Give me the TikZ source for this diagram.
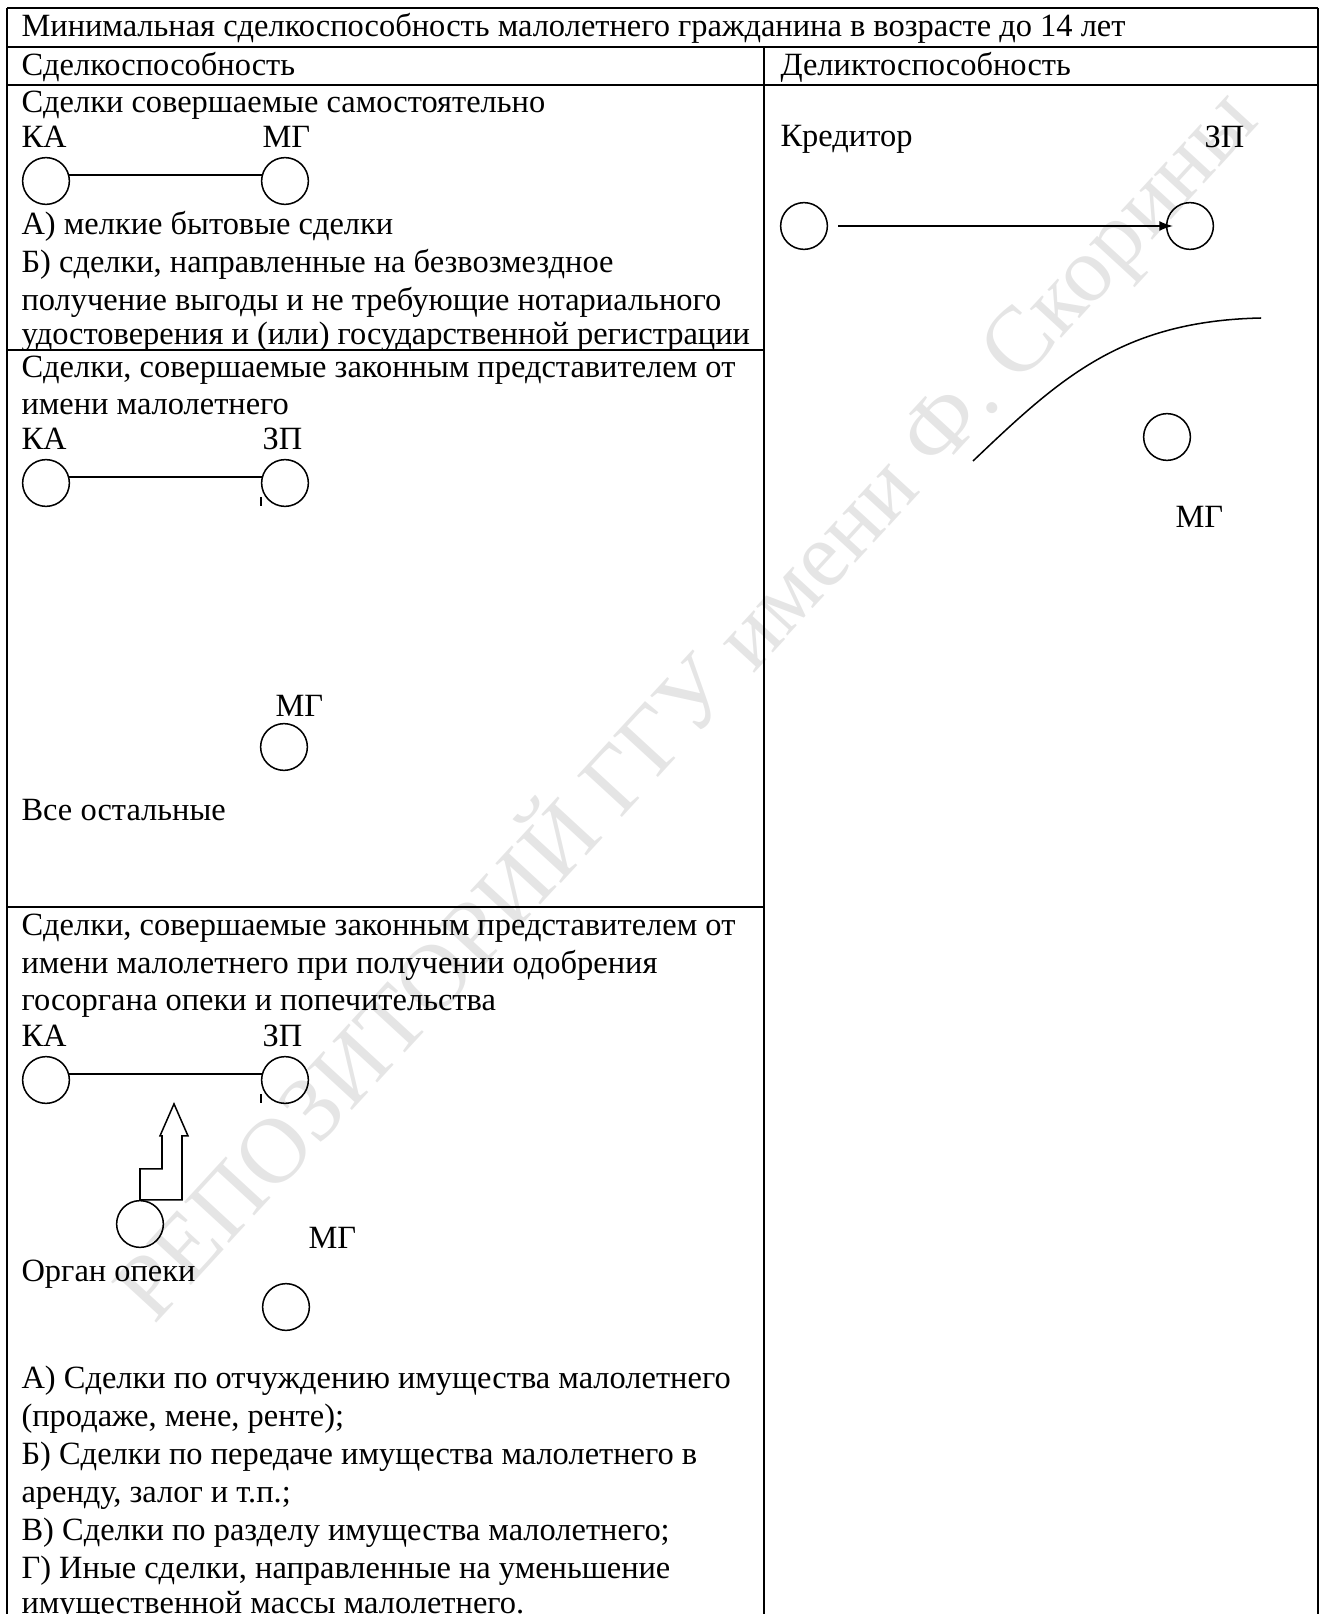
\documentclass[tikz,border=0pt]{standalone}
\usepackage{fontspec}
\setmainfont{Liberation Serif}
\usetikzlibrary{arrows.meta,calc}
\tikzset{
  frame/.style={line width=0.72pt},
  txt/.style={anchor=base west, inner sep=0pt, font=\fontsize{11.8}{13.8}\selectfont},
  party/.style={circle, draw, line width=0.55pt, minimum size=17pt, inner sep=0pt},
  link/.style={line width=0.55pt},
  tick/.style={line width=0.55pt},
  wmark/.style={rotate=47.4, inner sep=0pt, text=black!10, font=\fontsize{33.8}{40}\selectfont}
}
\begin{document}
\begin{tikzpicture}[x=0.36364pt,y=-0.36364pt]
\useasboundingbox (0,0) rectangle (1324,1614);
% watermark
\node[wmark] (wm) at (686,704) {РЕПОЗИТОРИЙ ГГУ имени Ф. Скорины};
% table frame
\draw[frame] (7,8) -- (1318,8);
\draw[frame] (7,47) -- (1318,47);
\draw[frame] (7,85) -- (1318,85);
\draw[frame] (7,350) -- (764,350);
\draw[frame] (7,907) -- (764,907);
\draw[frame] (7,8) -- (7,1614);
\draw[frame] (1318,8) -- (1318,1614);
\draw[frame] (764,47) -- (764,1614);
% headers
\node[txt] (title) at (21,37) {Минимальная сделкоспособность малолетнего гражданина в возрасте до 14 лет};
\node[txt] (h1) at (21,76) {Сделкоспособность};
\node[txt] (h2) at (780,76) {Деликтоспособность};
% section 1
\node[txt] (s1t) at (21,113) {Сделки совершаемые самостоятельно};
\node[txt] (s1ka) at (21,148) {КА};
\node[txt] (s1mg) at (262,148) {МГ};
\node[party] (ka1) at (46,181) {};
\node[party] (mg1) at (285,181) {};
\draw[link] (ka1.15) -- (mg1.165);
\node[txt] (s1a) at (21,235) {А) мелкие бытовые сделки};
\node[txt] (s1b) at (21,273) {Б) сделки, направленные на безвозмездное};
\node[txt] (s1c) at (21,311) {получение выгоды и не требующие нотариального};
\node[txt] (s1d) at (21,345) {удостоверения и (или) государственной регистрации};
% section 2
\node[txt] (s2t) at (21,378) {Сделки, совершаемые законным представителем от};
\node[txt] (s2u) at (21,415) {имени малолетнего};
\node[txt] (s2ka) at (21,450) {КА};
\node[txt] (s2zp) at (262,450) {ЗП};
\node[party] (ka2) at (46,483) {};
\node[party] (zp2) at (285,483) {};
\draw[link] (ka2.15) -- (zp2.165);
\draw[tick] ($(zp2.center)+(-24,14)$) -- ++(0,9);
\node[txt] (s2mg) at (275,716) {МГ};
\node[party] (mg2) at (284,747) {};
\node[txt] (s2r) at (21,820) {Все остальные};
% section 3
\node[txt] (s3t) at (21,935) {Сделки, совершаемые законным представителем от};
\node[txt] (s3u) at (21,973) {имени малолетнего при получении одобрения};
\node[txt] (s3v) at (21,1010) {госоргана опеки и попечительства};
\node[txt] (s3ka) at (21,1046) {КА};
\node[txt] (s3zp) at (262,1046) {ЗП};
\node[party] (ka3) at (46,1080) {};
\node[party] (zp3) at (285,1080) {};
\draw[link] (ka3.15) -- (zp3.165);
\draw[tick] ($(zp3.center)+(-24,14)$) -- ++(0,9);
\node[party] (org) at (140,1224) {};
\draw[link] (org.north) -- ++(0,-31) -- ++(22,0) -- ++(0,-33) -- ++(-2,0)
  -- ++(14,-32) -- ++(14,32) -- ++(-6,0) -- ++(0,64) -- cycle;
\node[txt] (s3mg) at (308,1248) {МГ};
\node[txt] (s3org) at (21,1281) {Орган опеки};
\node[party] (mg3) at (286,1307) {};
\node[txt] (s3a) at (21,1388) {А) Сделки по отчуждению имущества малолетнего};
\node[txt] (s3b) at (21,1426) {(продаже, мене, ренте);};
\node[txt] (s3c) at (21,1464) {Б) Сделки по передаче имущества малолетнего в};
\node[txt] (s3d) at (21,1502) {аренду, залог и т.п.;};
\node[txt] (s3e) at (21,1540) {В) Сделки по разделу имущества малолетнего;};
\node[txt] (s3f) at (21,1578) {Г) Иные сделки, направленные на уменьшение};
\node[txt] (s3g) at (21,1613) {имущественной массы малолетнего.};
% right column
\node[txt] (kredl) at (780,147) {Кредитор};
\node[txt] (zprl) at (1204,148) {ЗП};
\node[party] (kred) at (804,226) {};
\node[party] (zpr) at (1190,226) {};
\draw[link, -{Latex[length=5pt,width=3.6pt]}, shorten <=3.6pt, shorten >=-2.6pt] (kred) -- (zpr);
\node[party] (mgr) at (1167,437) {};
\coordinate (cvs) at (973,461);
\coordinate (cve) at (1261,318);
\draw[link] (cvs) .. controls (1060,378) and (1122,321) .. (cve);
\node[txt] (mgrl) at (1175,527) {МГ};
\end{tikzpicture}
\end{document}
